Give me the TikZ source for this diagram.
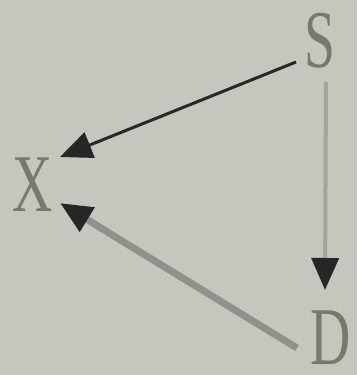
\documentclass[tikz,border=0pt]{standalone}
\usepackage{fontspec}
\setmainfont{Liberation Serif}
\usetikzlibrary{arrows.meta,calc}
\definecolor{bg}{RGB}{198,198,190}
\definecolor{letter}{RGB}{120,120,114}
\definecolor{headc}{RGB}{38,38,38}
\tikzset{
  lbl/.style={text=letter, inner sep=0pt, text height=55pt, text depth=0pt, xscale=0.68, font=\fontsize{82}{82}\selectfont},
  tip/.style={-{Triangle[length=32pt,width=27pt,color=headc]}},
}
\begin{document}
\begin{tikzpicture}[x=1pt,y=-1pt]
\fill[bg] (0,0) rectangle (357,375);
\useasboundingbox (0,0) rectangle (357,375);
\node[lbl] (S) at (320,40) {S};
\node[lbl] (X) at (33,184) {X};
\node[lbl] (D) at (331,337) {D};
\draw[tip, line width=3pt, draw={rgb,255:red,40;green,40;blue,40}]
  ($(S)+(-24,22)$) -- ($(X)+(27,-27)$);
\draw[tip, line width=4pt, draw={rgb,255:red,165;green,165;blue,160}]
  ($(S)+(6,42)$) -- ($(D)+(-6,-47)$);
\draw[tip, line width=7pt, draw={rgb,255:red,145;green,145;blue,140}]
  ($(D)+(-34,11)$) -- ($(X)+(27,19)$);
\end{tikzpicture}
\end{document}
